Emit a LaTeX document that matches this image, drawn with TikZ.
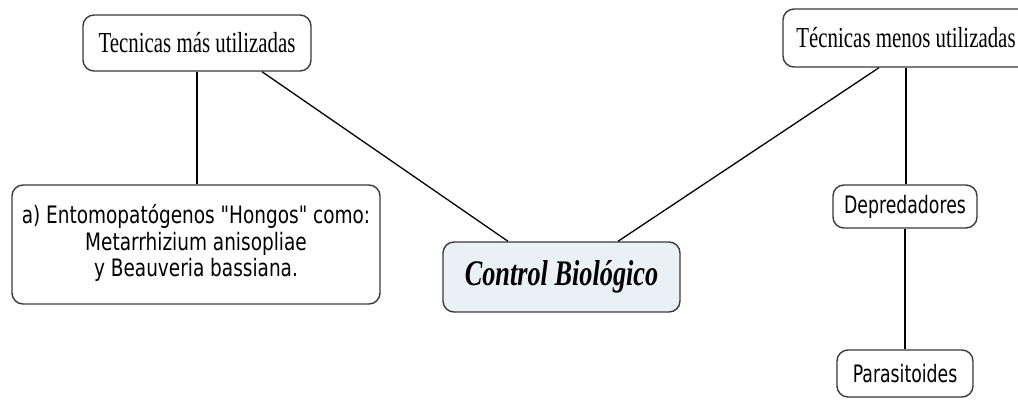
\documentclass[tikz,border=0pt]{standalone}
\usepackage{graphicx}
\usepackage{fontspec}
\setmainfont{Liberation Serif}
\newfontfamily\vfont{DejaVu Sans}
\newcommand\sqz[2]{\scalebox{#1}[1]{#2}}
\definecolor{edge}{HTML}{3A3A3A}
\definecolor{ctrlfill}{HTML}{EAF1F5}
\tikzset{
  cbox/.style={draw=edge, line width=1.4pt, rounded corners=11pt, inner sep=0pt, fill=white},
  link/.style={draw=black, line width=1.3pt},
  serif/.style={font=\fontsize{29}{33}\selectfont},
  sans/.style={font=\vfont\fontsize{24}{26.5}\selectfont}
}
\begin{document}
\begin{tikzpicture}[x=1pt,y=-1pt]
\clip (0,0) rectangle (1018,400);
\fill[white] (0,0) rectangle (1018,400);
\node[cbox, serif, minimum width=228pt, minimum height=56pt] (b1) at (197,43) {\sqz{0.72}{Tecnicas más utilizadas}};
\node[cbox, serif, minimum width=246pt, minimum height=58pt] (b2) at (906,38) {\sqz{0.72}{Técnicas menos utilizadas}};
\node[cbox, sans, minimum width=368pt, minimum height=119pt] (b3) at (196,244.5) {\sqz{0.77}{\begin{tabular}{@{}c@{}}a) Entomopatógenos "Hongos" como:\\ Metarrhizium anisopliae\\ y Beauveria bassiana.\end{tabular}}};
\node[cbox, fill=ctrlfill, minimum width=237pt, minimum height=70pt, font=\fontsize{36}{40}\selectfont\bfseries\itshape] (ctrl) at (561.5,277) {\sqz{0.73}{Control Biológico}};
\node[cbox, sans, minimum width=144pt, minimum height=43pt] (dep) at (905,206.5) {\sqz{0.72}{Depredadores}};
\node[cbox, sans, minimum width=136pt, minimum height=47pt] (par) at (905,373.5) {\sqz{0.72}{Parasitoides}};
\draw[link] (b1.south) -- (b3.north -| b1.south);
\draw[link] ([xshift=65pt]b1.south) -- ([xshift=-53.5pt]ctrl.north);
\draw[link] ([xshift=-27pt]b2.south) -- ([xshift=56.5pt]ctrl.north);
\draw[link] (b2.south) -- (dep.north -| b2.south);
\draw[link] (dep.south) -- (par.north);
\end{tikzpicture}
\end{document}
